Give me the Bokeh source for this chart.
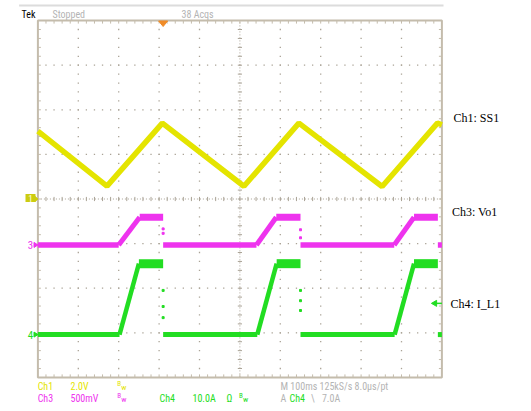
import math
from bokeh.plotting import figure
from bokeh.models import Range1d
from bokeh.embed import file_html
from bokeh.resources import INLINE
from bokeh.core.properties import value

# ---------------- data (time in ms, 100 ms/div) ----------------
ss1_time = [0, 171, 308, 510, 646, 852, 989, 1000]            # Ch1: SS1 (V)
ss1_volts = [3.04, 0.58, 3.40, 0.57, 3.40, 0.56, 3.40, 3.33]

# Ch3: Vo1 (V) and Ch4: I_L1 (A) switching edges
vo1_rise_start = [200, 541, 882]
vo1_rise_end = [252, 590, 931]
vo1_fall = [310, 650, 990]
vo1_low, vo1_high = 0.0, 0.31

il1_rise_start = [202, 543, 883]
il1_rise_end = [250, 591, 931]
il1_fall = [310, 650, 990]
il1_low, il1_high = 0.0, 15.9

il1_glitch_time = [310, 310, 310, 650, 650, 650]
il1_glitch_amps = [9.9, 6.3, 3.8, 9.9, 7.6, 5.4]
vo1_glitch_time = [310, 310, 650, 650]
vo1_glitch_volts = [0.18, 0.13, 0.17, 0.08]

ch1_scale, ch3_scale, ch4_scale = 2.0, 0.5, 10.0     # units per division
ch1_pos, ch3_pos, ch4_pos = 0.0, -1.03, -3.04        # ground marker, divisions
trigger_time = 310.0   # ms
trigger_level = 7.0    # A on Ch4
record_end = 1000.0    # ms

# ---------------- screen mapping ----------------
W, H = 523, 408
X0, PXMS = 37.4, 0.404       # screenshot px of t=0, px per ms
Y0, PXDIV = 198.5, 44.6      # screenshot px of centre, px per division


def tx(px):
    return (px - X0) / PXMS


def dy(py):
    return (Y0 - py) / PXDIV


ylo, yhi = dy(H), dy(0)

p = figure(width=W, height=H, title=None,
           x_range=Range1d(tx(0), tx(W)), y_range=Range1d(ylo, yhi),
           output_backend="svg", toolbar_location=None,
           x_axis_location=None, y_axis_location=None,
           min_border=0, outline_line_color=None,
           background_fill_color="white", border_fill_color="white")
p.xgrid.visible = False
p.ygrid.visible = False

p.extra_y_ranges = {
    "ch1": Range1d((ylo - ch1_pos) * ch1_scale, (yhi - ch1_pos) * ch1_scale),
    "ch3": Range1d((ylo - ch3_pos) * ch3_scale, (yhi - ch3_pos) * ch3_scale),
    "ch4": Range1d((ylo - ch4_pos) * ch4_scale, (yhi - ch4_pos) * ch4_scale),
}

NARROW = "Roboto Condensed, DejaVu Sans Condensed, Liberation Sans Narrow, Liberation Sans"
SERIF = "Liberation Serif"
YEL, MAG, GRN, GRY = "#e4e400", "#ee33ee", "#22dd22", "#b4b4b4"
BORDER, DOT = "#c4bcac", "#aaa396"

# ---------------- graticule ----------------
tick_ms = 3 / PXMS
tick_dv = 3 / PXDIV
gx, gy = [], []
for i in range(1, 10):
    if i == 5:
        continue
    for k in range(1, 40):
        gx.append(i * 100)
        gy.append(-4 + k * 0.2)
for j in range(-3, 4):
    if j == 0:
        continue
    for k in range(1, 50):
        gx.append(k * 20)
        gy.append(j)
p.rect(gx, gy, width=1.3, height=1.3, width_units="screen", height_units="screen",
       fill_color=DOT, line_color=None)
p.segment([500, 0], [-4, 0], [500, 1000], [4, 0], line_color=DOT, line_width=1, line_dash="1 2")
cx0, cy0, cx1, cy1 = [], [], [], []
for k in range(1, 40):
    cx0.append(500 - tick_ms * 0.7); cx1.append(500 + tick_ms * 0.7)
    cy0.append(-4 + k * 0.2); cy1.append(-4 + k * 0.2)
for k in range(1, 50):
    cx0.append(k * 20); cx1.append(k * 20)
    cy0.append(-tick_dv * 0.7); cy1.append(tick_dv * 0.7)
p.segment(cx0, cy0, cx1, cy1, line_color=DOT, line_width=1)
bx0, by0, bx1, by1 = [], [], [], []
for k in range(1, 50):
    bx0 += [k * 20, k * 20]; bx1 += [k * 20, k * 20]
    by0 += [4, -4]; by1 += [4 - tick_dv, -4 + tick_dv]
for k in range(1, 40):
    y = -4 + k * 0.2
    bx0 += [0, 1000]; bx1 += [tick_ms, 1000 - tick_ms]
    by0 += [y, y]; by1 += [y, y]
p.segment(bx0, by0, bx1, by1, line_color=BORDER, line_width=1)
p.quad(left=[0], right=[1000], bottom=[-4], top=[4], fill_color=None,
       line_color=BORDER, line_width=2)

# top separator line
p.segment([tx(18.6)], [dy(5)], [tx(443)], [dy(5)], line_color="#dcdcdc", line_width=2)


# ---------------- traces ----------------
def square_segments(rise_start, rise_end, fall, low, high, w_low, w_ramp, w_high):
    xs, ys, ws = [], [], []
    t = 0.0
    for rs, re, f in zip(rise_start, rise_end, fall):
        xs.append([t, rs]); ys.append([low, low]); ws.append(w_low)
        xs.append([rs, re]); ys.append([low, high]); ws.append(w_ramp)
        xs.append([re, f]); ys.append([high, high]); ws.append(w_high)
        t = f
    xs.append([t, record_end]); ys.append([low, low]); ws.append(w_low)
    return dict(xs=xs, ys=ys, w=ws)


p.line(ss1_time, ss1_volts, y_range_name="ch1", line_color=YEL, line_width=5.5)

d3 = square_segments(vo1_rise_start, vo1_rise_end, vo1_fall, vo1_low, vo1_high, 5.5, 5, 7)
p.multi_line("xs", "ys", source=d3, y_range_name="ch3", line_color=MAG, line_width="w")
p.scatter(vo1_glitch_time, vo1_glitch_volts, y_range_name="ch3", marker="square",
          size=2, color=MAG)

d4 = square_segments(il1_rise_start, il1_rise_end, il1_fall, il1_low, il1_high, 5, 4.5, 9)
p.multi_line("xs", "ys", source=d4, y_range_name="ch4", line_color=GRN, line_width="w")
p.scatter(il1_glitch_time, il1_glitch_amps, y_range_name="ch4", marker="square",
          size=2, color=GRN)

# trigger position marker (top) and trigger level marker (right)
hw = 4.5 / PXMS
p.patch([trigger_time - hw, trigger_time + hw, trigger_time],
        [dy(20.5), dy(20.5), dy(26)], color="#f08c28")
p.segment([1000 - 8 / PXMS], [trigger_level], [1000], [trigger_level],
          y_range_name="ch4", line_color=GRN, line_width=1.5)
p.scatter([1000 - 7 / PXMS], [trigger_level], y_range_name="ch4", marker="triangle",
          angle=math.pi / 2, size=6, color=GRN)

# channel ground markers (left)
p.quad(left=[tx(25)], right=[tx(35)], bottom=[dy(201.5)], top=[dy(193.5)],
       fill_color="#cccc10", line_color=None)
p.patch([tx(34.5), tx(34.5), tx(37.5)], [ch1_pos + 2.5 / PXDIV, ch1_pos - 2.5 / PXDIV, ch1_pos],
        color="#cccc10")
p.patch([tx(33.5), tx(33.5), tx(37.5)], [ch3_pos + 2.5 / PXDIV, ch3_pos - 2.5 / PXDIV, ch3_pos],
        color=MAG)
p.patch([tx(33.5), tx(33.5), tx(37.5)], [ch4_pos + 2.5 / PXDIV, ch4_pos - 2.5 / PXDIV, ch4_pos],
        color=GRN)


def label(px, py, s, color, size=10, font=NARROW, align="left"):
    p.text(x=[tx(px)], y=[dy(py)], text=[s], text_color=color,
           text_font=value(font), text_font_size=f"{size}px",
           text_align=align, text_baseline="middle")


label(30, 197.5, "1", "#ffffe0", size=9, align="center")
label(30, 244.5, "3", MAG, size=11, align="center")
label(30, 334.5, "4", GRN, size=11, align="center")

# header
label(21, 13.5, "Tek", "#000000")
label(52, 13.5, "Stopped", GRY)
label(181, 13.5, "38 Acqs", GRY)

# right-hand channel names
label(453, 117, "Ch1: SS1", "#000000", size=12, font=SERIF)
label(451.5, 211, "Ch3: Vo1", "#000000", size=12, font=SERIF)
label(450, 303, "Ch4: I_L1", "#000000", size=12, font=SERIF)

# bottom status lines
r1, r2 = 385.5, 397.5
label(37.2, r1, "Ch1", YEL)
label(70, r1, "2.0V", YEL)
label(116.7, r1 - 2, "B", YEL, size=7)
label(120.7, r1 + 1, "w", YEL, size=8)
label(280, r1, "M 100ms 125kS/s  8.0\u00b5s/pt", GRY)
label(37.2, r2, "Ch3", MAG)
label(70, r2, "500mV", MAG)
label(116.7, r2 - 2, "B", MAG, size=7)
label(120.7, r2 + 1, "w", MAG, size=8)
label(159, r2, "Ch4", GRN)
label(192, r2, "10.0A", GRN)
label(226, r2, "\u03a9", GRN)
label(238.5, r2 - 2, "B", GRN, size=7)
label(242.5, r2 + 1, "w", GRN, size=8)
label(280, r2, "A", GRY)
label(289, r2, "Ch4", GRN)
label(310.6, r2, "\\", GRY)
label(321.4, r2, "7.0A", GRY)

open("out.html", "w").write(file_html(p, INLINE))
